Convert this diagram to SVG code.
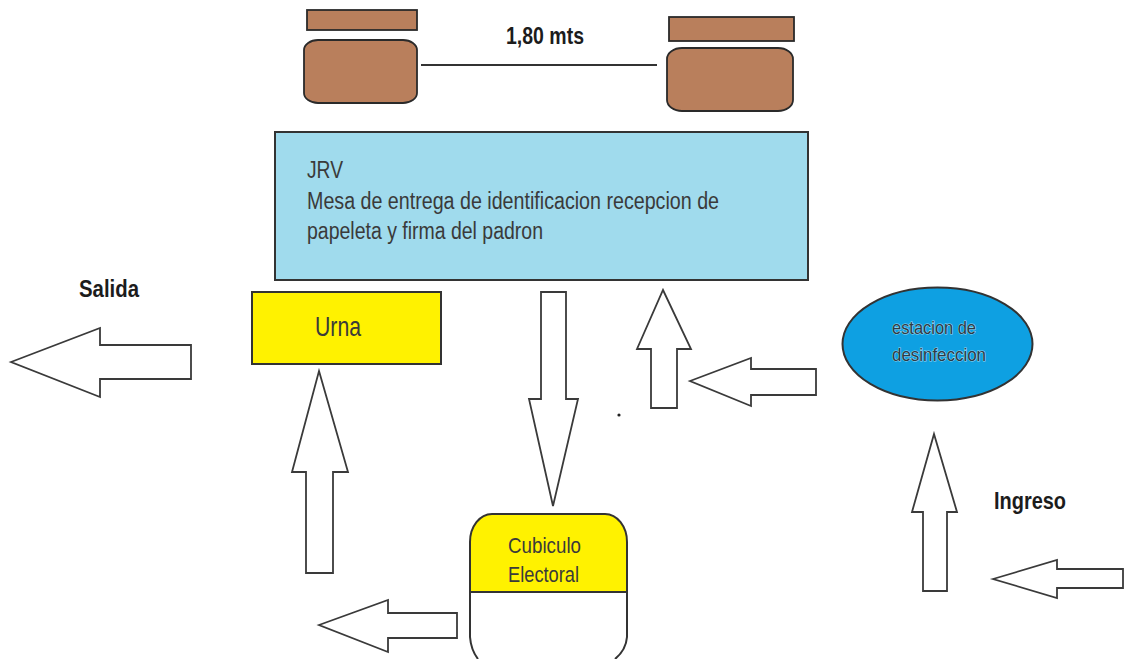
<svg xmlns="http://www.w3.org/2000/svg" width="1125" height="659" viewBox="0 0 1125 659">
<style>
text{font-family:"Liberation Sans",Arial,sans-serif;lengthAdjust:spacingAndGlyphs}
.t{fill:#3a3a3a}
.b{font-weight:bold;fill:#1c1c1c;font-size:24px}
.wood{fill:#b97f5c;stroke:#2a2a2a;stroke-width:1.8}
.arrow{fill:#fff;stroke:#3a3a3a;stroke-width:1.8}
.node{stroke:#333;stroke-width:2}
.halo{fill:#2c3a44;stroke:#d8eefa;stroke-width:1.2;paint-order:stroke;stroke-opacity:.7}
</style>
<rect width="1125" height="659" fill="#fff"/>
<g id="table-left">
<rect class="wood" x="307" y="10" width="110" height="20"/>
<rect class="wood" x="304" y="40" width="113" height="63" rx="14" ry="10"/>
</g>
<g id="table-right">
<rect class="wood" x="669" y="17" width="125" height="24"/>
<rect class="wood" x="667" y="48" width="126" height="63" rx="15" ry="11"/>
</g>
<g id="jrv">
<rect class="node" x="275" y="132" width="533" height="148" fill="#a0dbed"/>
<text class="t" font-size="23.5" x="307" y="178" textLength="36" lengthAdjust="spacingAndGlyphs">JRV</text>
<text class="t" font-size="23.5" x="307" y="209" textLength="412" lengthAdjust="spacingAndGlyphs">Mesa de entrega de identificacion recepcion de</text>
<text class="t" font-size="23.5" x="307" y="239" textLength="236" lengthAdjust="spacingAndGlyphs">papeleta y firma del padron</text>
</g>
<g id="urna">
<rect class="node" x="252" y="292" width="189" height="72" fill="#fff200"/>
<text class="t" font-size="27" x="315" y="336" textLength="46" lengthAdjust="spacingAndGlyphs">Urna</text>
</g>
<g id="estacion">
<ellipse class="node" cx="937.5" cy="344" rx="95" ry="56.5" fill="#0ea0e2"/>
<text class="halo" font-size="19" x="892" y="334" textLength="84" lengthAdjust="spacingAndGlyphs">estacion de</text>
<text class="halo" font-size="19" x="892" y="361" textLength="94" lengthAdjust="spacingAndGlyphs">desinfeccion</text>
</g>
<g id="cubiculo">
<path d="M470 592V542A22 28 0 0 1 492 514H605A22 28 0 0 1 627 542V592Z" class="node" fill="#fff200"/>
<path d="M470 592V637Q471 650 478 659M627 592V637Q626 650 615 659" fill="none" class="node"/>
<text class="t" font-size="22" x="508" y="553" textLength="73" lengthAdjust="spacingAndGlyphs">Cubiculo</text>
<text class="t" font-size="22" x="508" y="582" textLength="71" lengthAdjust="spacingAndGlyphs">Electoral</text>
</g>
<g id="salida"><text class="b" x="79" y="297" textLength="60" lengthAdjust="spacingAndGlyphs">Salida</text></g>
<g id="ingreso"><text class="b" x="994" y="509" textLength="72" lengthAdjust="spacingAndGlyphs">Ingreso</text></g>
<g id="connectors">
<line x1="421" y1="65" x2="657" y2="65" stroke="#333" stroke-width="1.8"/>
<text class="b" x="506" y="44" textLength="78" lengthAdjust="spacingAndGlyphs">1,80 mts</text>
<polygon class="arrow" points="11,362 100,328 100,345 191,345 191,379 100,379 100,397"/>
<polygon class="arrow" points="319,371 348,472 333,472 333,573 306,573 306,472 292,472"/>
<polygon class="arrow" points="553,506 578,399 566,399 566,292 541,292 541,399 529,399"/>
<polygon class="arrow" points="663,290 691,349 677,349 677,408 651,408 651,349 637,349"/>
<polygon class="arrow" points="690,381 751,358 751,369 816,369 816,395 751,395 751,406"/>
<polygon class="arrow" points="934,434 957,512 947,512 947,591 923,591 923,512 912,512"/>
<polygon class="arrow" points="993,579 1057,560 1057,569 1123,569 1123,588 1057,588 1057,598"/>
<polygon class="arrow" points="319,625 388,600 388,613 457,613 457,638 388,638 388,652"/>
</g>
<circle cx="619" cy="415" r="1.6" fill="#222"/>
</svg>
